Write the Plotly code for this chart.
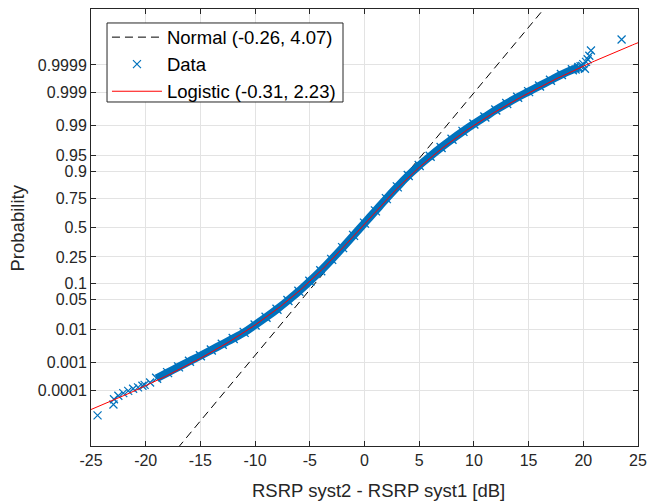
from statistics import NormalDist

import numpy as np
import plotly.graph_objects as go

# fitted parameters shown in the legend
normal_fit = (-0.26, 4.07)
logistic_fit = (-0.31, 2.23)

# reference line of the normal fit as it is drawn (mean, slope in dB per sigma)
normal_line_mu = -0.26
normal_line_sigma = 3.33

# dense part of the data band: value [dB] and probability
band_x = [-19.0, -18.0, -17.0, -16.0, -15.0, -14.0, -13.0, -12.0, -11.0, -10.0,
          -9.0, -8.0, -7.0, -6.0, -5.0, -4.0, -3.0, -2.0, -1.0, 0.0,
          1.0, 2.0, 3.0, 4.0, 5.0, 6.0, 7.0, 8.0, 9.0, 10.0,
          11.0, 12.0, 13.0, 14.0, 15.0, 16.0, 17.0, 18.0, 19.0, 19.6]
band_p = [2.80e-4, 4.50e-4, 7.11e-4, 1.107e-3, 1.667e-3, 2.52e-3, 3.79e-3, 5.54e-3, 8.20e-3, 0.01287,
          0.01994, 0.03074, 0.04746, 0.0721, 0.1093, 0.1611, 0.2327, 0.3228, 0.4286, 0.5398,
          0.6480, 0.7454, 0.8238, 0.8830, 0.9222, 0.9484, 0.9664, 0.9783, 0.9861, 0.9911,
          0.99430, 0.99643, 0.99774, 0.99856, 0.999064, 0.999402, 0.999624, 0.999767, 0.999847, 0.999874]

# single samples visible in the tails
tail_x = [-24.4, -22.95, -22.9, -22.5, -22.05, -21.6, -21.15, -20.7, -20.3, -20.1, -19.6,
          19.3, 19.5, 19.75, 19.9, 20.0, 20.15, 20.25, 20.4, 20.55, 20.7, 23.5]
tail_p = [8.54e-6, 2.56e-5, 4.25e-5, 5.91e-5, 7.53e-5, 9.20e-5, 1.12e-4, 1.26e-4, 1.47e-4, 1.59e-4, 1.95e-4,
          0.99985, 0.99987, 0.999888, 0.99989, 0.999908, 0.99986, 0.9999247, 0.9999409, 0.9999575,
          0.9999744, 0.9999915]

prob_ticks = [0.0001, 0.001, 0.01, 0.05, 0.1, 0.25, 0.5, 0.75, 0.9, 0.95, 0.99, 0.999, 0.9999]
prob_labels = ["0.0001", "0.001", "0.01", "0.05", "0.1", "0.25", "0.5", "0.75", "0.9", "0.95",
               "0.99", "0.999", "0.9999"]
x_ticks = [-25, -20, -15, -10, -5, 0, 5, 10, 15, 20, 25]

nd = NormalDist()
q = np.vectorize(nd.inv_cdf)

BLUE = "#0072BD"
INK = "#262626"
FONT = "Liberation Sans, Arial, sans-serif"

fig = go.Figure()

zl = np.array([-5.5, 5.5])
fig.add_trace(go.Scatter(
    x=normal_line_mu + normal_line_sigma * zl, y=zl, mode="lines",
    line=dict(color="black", width=1, dash="8px,5px"),
    name=f"Normal ({normal_fit[0]:.2f}, {normal_fit[1]:.2f})",
))

# the thousands of overlapping markers read as a thick band
fig.add_trace(go.Scatter(
    x=band_x, y=q(band_p), mode="lines+markers",
    line=dict(color=BLUE, width=8, shape="spline", smoothing=1),
    marker=dict(symbol="x-thin", size=9, line=dict(color=BLUE, width=1.3)),
    showlegend=False, hoverinfo="skip",
))
fig.add_trace(go.Scatter(
    x=tail_x, y=q(tail_p), mode="markers", name="Data",
    marker=dict(symbol="x-thin", size=8, line=dict(color=BLUE, width=1.2)),
))

xs = np.linspace(-25, 25, 301)
mu, s = logistic_fit
fig.add_trace(go.Scatter(
    x=xs, y=q(1.0 / (1.0 + np.exp(-(xs - mu) / s))), mode="lines",
    line=dict(color="#ff0000", width=1),
    name=f"Logistic ({mu:.2f}, {s:.2f})",
))

axis_style = dict(
    showline=True, linecolor=INK, linewidth=1, mirror="ticks",
    ticks="inside", ticklen=5, tickcolor=INK, tickwidth=1,
    showgrid=True, gridcolor="#e3e3e3", gridwidth=1, zeroline=False,
    tickfont=dict(family=FONT, size=16, color=INK), automargin=False,
)

fig.update_xaxes(range=[-25, 25], tickvals=x_ticks, ticktext=[str(v) for v in x_ticks], **axis_style)
fig.update_yaxes(range=[-5, 5], tickvals=q(prob_ticks), ticktext=prob_labels, **axis_style)

label_font = dict(family=FONT, size=18.5, color=INK)
fig.add_annotation(text="RSRP syst2 - RSRP syst1 [dB]", xref="paper", yref="paper",
                   x=0.5247, y=-0.1007, xanchor="center", yanchor="middle",
                   showarrow=False, font=label_font)
fig.add_annotation(text="Probability", xref="paper", yref="paper", textangle=-90,
                   x=-0.1335, y=0.5, xanchor="center", yanchor="middle",
                   showarrow=False, font=label_font)

# legend frame
fig.add_shape(type="rect", xref="paper", yref="paper",
              x0=0.0293, x1=0.4607, y0=0.7872, y1=0.968,
              line=dict(color=INK, width=1), fillcolor="white", layer="above")

fig.update_layout(
    width=647, height=504,
    margin=dict(l=91, r=9, t=9, b=58),
    plot_bgcolor="white", paper_bgcolor="white",
    legend=dict(
        x=0.0292, y=0.978, xanchor="left", yanchor="top",
        bgcolor="rgba(0,0,0,0)", borderwidth=0,
        font=dict(family=FONT, size=18.5, color="black"),
        itemwidth=50, tracegroupgap=0,
    ),
)

fig.write_html("out.html", config={"displayModeBar": False},
               post_script="document.body.style.margin = '0';")
